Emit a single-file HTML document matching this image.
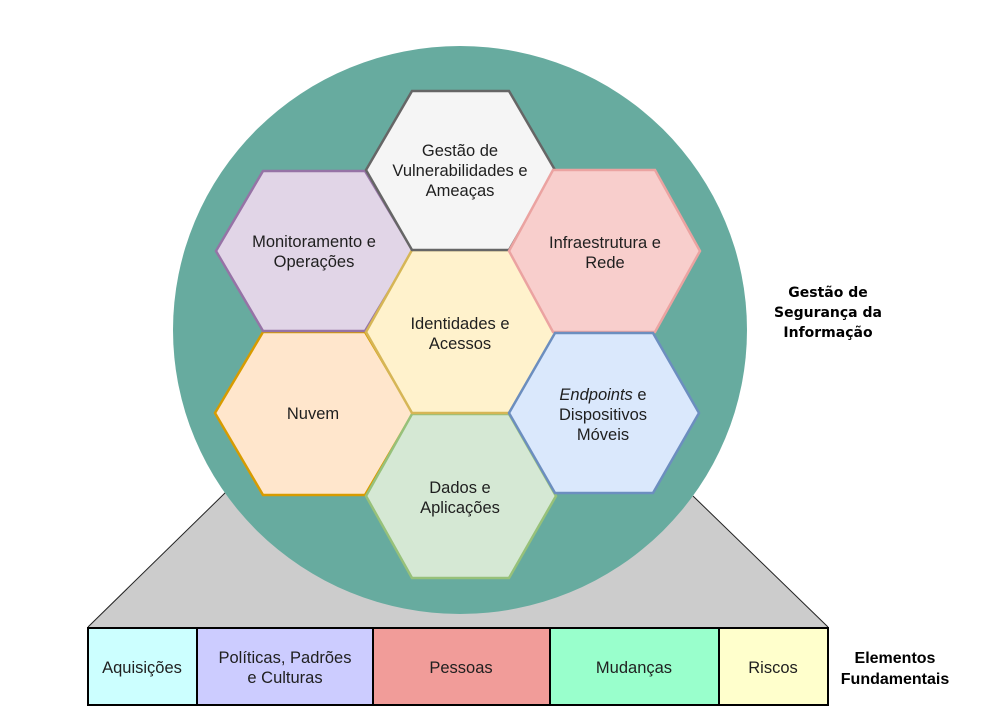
<!DOCTYPE html>
<html>
<head>
<meta charset="utf-8">
<style>
  html,body{margin:0;padding:0;background:#ffffff;}
  svg{display:block;}
  .t{font-family:"Liberation Sans",Arial,sans-serif;font-size:16.5px;fill:#1f1f1f;}
  .b{font-family:"Liberation Sans",Arial,sans-serif;font-size:16px;font-weight:bold;fill:#000;}
  .v{font-family:"DejaVu Sans","Liberation Sans",sans-serif;font-size:14px;font-weight:bold;fill:#000;}
</style>
</head>
<body>
<svg width="1004" height="709" viewBox="0 0 1004 709" xmlns="http://www.w3.org/2000/svg">
  <rect x="0" y="0" width="1004" height="709" fill="#ffffff"/>

  <!-- gray trapezoid -->
  <polygon points="88,627 226,492 693,496 828,627" fill="#cccccc"/>
  <line x1="88" y1="627" x2="226" y2="492" stroke="#222" stroke-width="1"/>
  <line x1="693" y1="496" x2="828" y2="627" stroke="#222" stroke-width="1"/>

  <!-- big circle -->
  <ellipse cx="460" cy="330" rx="287" ry="284" fill="#67ab9f"/>

  <!-- hexagons -->
  <polygon points="263,332 365,332 413,413 365,495 263,495 215,413" fill="#ffe6cc" stroke="#d79b00" stroke-width="2.5"/>
  <polygon points="263,171 365,171 413,251 365,331 263,331 216,251" fill="#e1d5e7" stroke="#9673a6" stroke-width="2.5"/>
  <polygon points="412,414 509,414 556,496 509,578 412,578 366,496" fill="#d5e8d4" stroke="#97c17a" stroke-width="2.5"/>
  <polygon points="412,250 509,250 556,332 509,413 412,413 366,332" fill="#fff2cc" stroke="#d6b656" stroke-width="2.5"/>
  <polygon points="412,91 509,91 555,170 509,250 412,250 366,170" fill="#f5f5f5" stroke="#666666" stroke-width="2.5"/>
  <polygon points="553,170 655,170 700,251 655,332 553,332 509,251" fill="#f8cecc" stroke="#eba3a1" stroke-width="2.5"/>
  <polygon points="555,333 653,333 699,413 653,493 555,493 509,413" fill="#dae8fc" stroke="#6c8ebf" stroke-width="2.5"/>

  <!-- hex labels -->
  <g class="t" text-anchor="middle">
    <text x="460" y="156">Gestão de</text>
    <text x="460" y="176">Vulnerabilidades e</text>
    <text x="460" y="196">Ameaças</text>

    <text x="314" y="247">Monitoramento e</text>
    <text x="314" y="267">Operações</text>

    <text x="605" y="248">Infraestrutura e</text>
    <text x="605" y="268">Rede</text>

    <text x="460" y="329">Identidades e</text>
    <text x="460" y="349">Acessos</text>

    <text x="313" y="419">Nuvem</text>

    <text x="603" y="400"><tspan font-style="italic">Endpoints</tspan> e</text>
    <text x="603" y="420">Dispositivos</text>
    <text x="603" y="440">Móveis</text>

    <text x="460" y="493">Dados e</text>
    <text x="460" y="513">Aplicações</text>
  </g>

  <!-- right label -->
  <g class="v" text-anchor="middle">
    <text x="828" y="297">Gestão de</text>
    <text x="828" y="317">Segurança da</text>
    <text x="828" y="337">Informação</text>
  </g>

  <!-- bottom boxes -->
  <rect x="88" y="628" width="109" height="77" fill="#ccffff" stroke="#000" stroke-width="2"/>
  <rect x="197" y="628" width="176" height="77" fill="#ccccff" stroke="#000" stroke-width="2"/>
  <rect x="373" y="628" width="177" height="77" fill="#f19c99" stroke="#000" stroke-width="2"/>
  <rect x="550" y="628" width="169" height="77" fill="#99ffcc" stroke="#000" stroke-width="2"/>
  <rect x="719" y="628" width="109" height="77" fill="#ffffcc" stroke="#000" stroke-width="2"/>

  <g class="t" text-anchor="middle">
    <text x="142" y="673">Aquisições</text>
    <text x="285" y="663">Políticas, Padrões</text>
    <text x="285" y="683">e Culturas</text>
    <text x="461" y="673">Pessoas</text>
    <text x="634" y="673">Mudanças</text>
    <text x="773" y="673">Riscos</text>
  </g>

  <g class="b" text-anchor="middle">
    <text x="895" y="663">Elementos</text>
    <text x="895" y="684">Fundamentais</text>
  </g>
</svg>
</body>
</html>
